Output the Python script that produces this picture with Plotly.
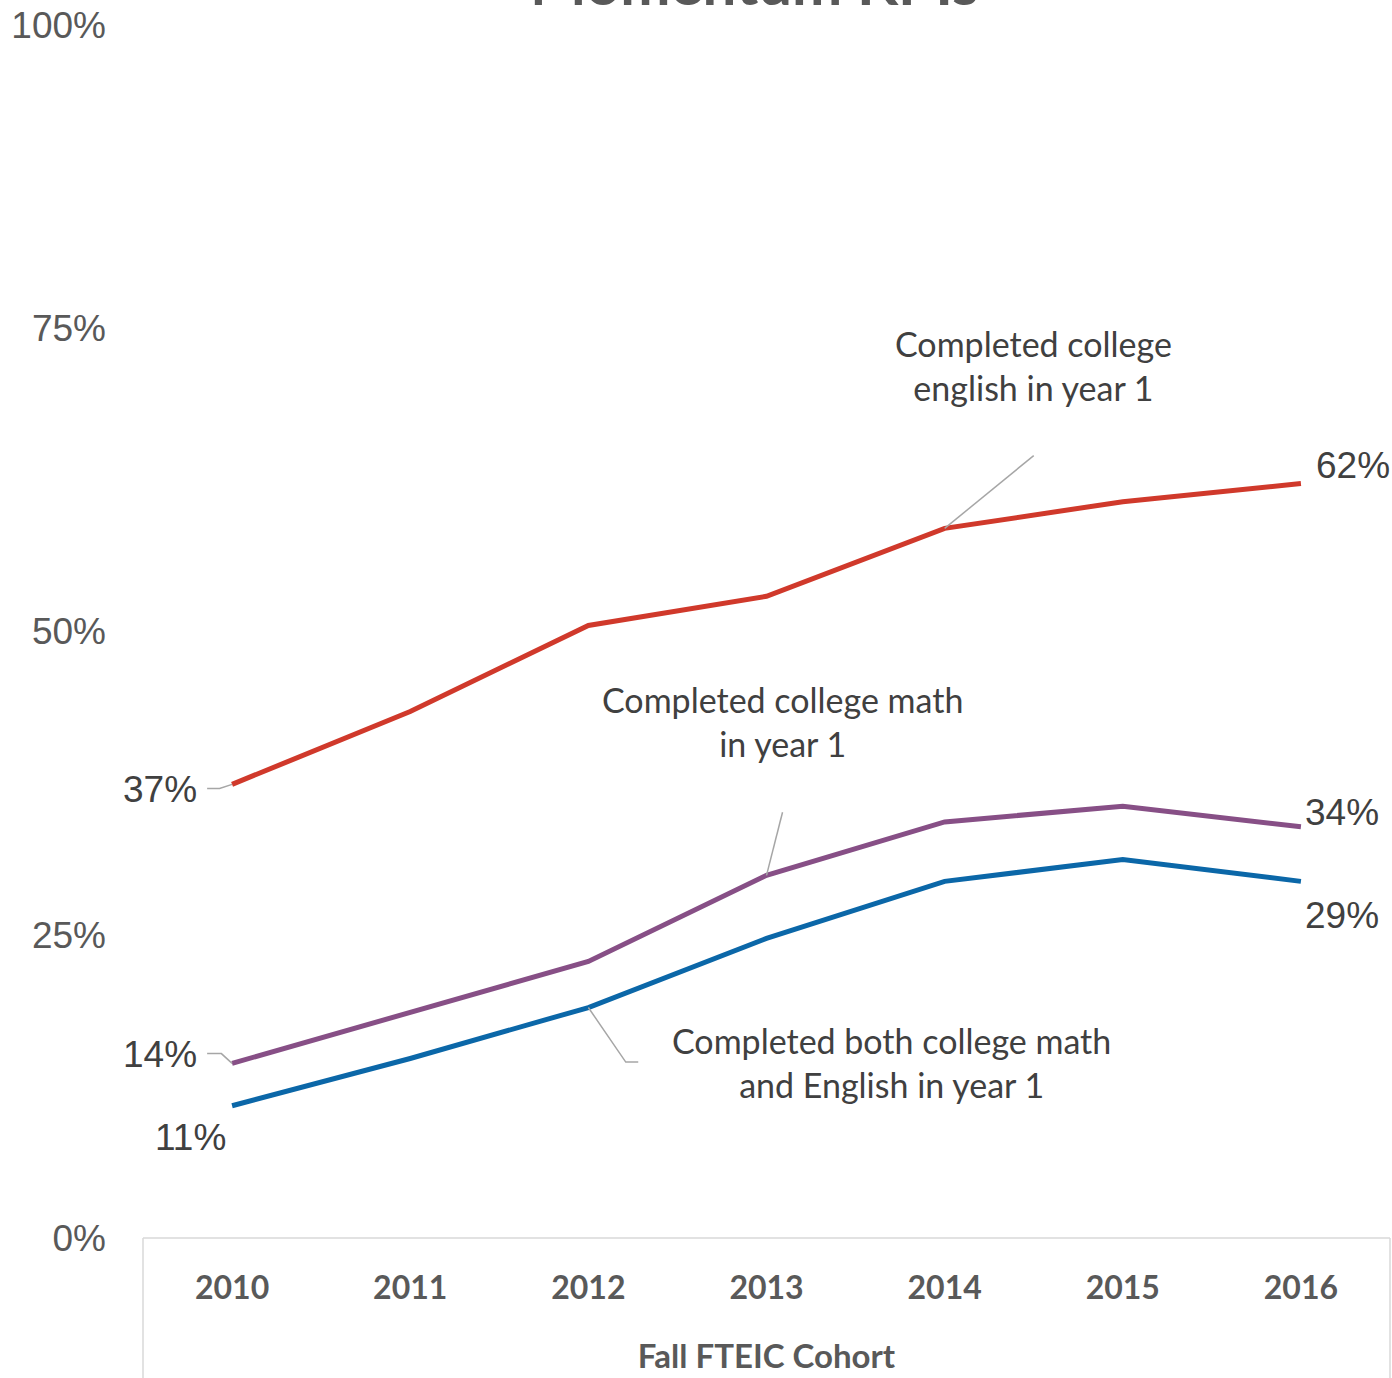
import plotly.graph_objects as go

# Fall FTEIC cohorts
years = [2010, 2011, 2012, 2013, 2014, 2015, 2016]

# Share of cohort (%) completing each gateway course in year 1
english = [37.4, 43.4, 50.5, 52.9, 58.5, 60.7, 62.2]
math = [14.4, 18.6, 22.8, 29.9, 34.3, 35.6, 33.9]
both = [10.9, 14.8, 19.0, 24.7, 29.4, 31.2, 29.4]

y_ticks = [0, 25, 50, 75, 100]
y_tick_text = ["0%", "25%", "50%", "75%", "100%"]

series_names = [
    "Completed college english in year 1",
    "Completed college math in year 1",
    "Completed both college math and English in year 1",
]
series_colors = ["#D0392B", "#874F86", "#0B67A8"]

TXT = "#404040"
LBL_FONT = dict(family="Liberation Sans, Arial", size=37, color=TXT)
NOTE_FONT = dict(family="Lato", size=34, color=TXT)
LEADER = dict(color="#A6A6A6", width=1.5)

fig = go.Figure()
for name, vals, col in zip(series_names, [english, math, both], series_colors):
    fig.add_trace(go.Scatter(
        x=years, y=vals, name=name, mode="lines",
        line=dict(color=col, width=5), showlegend=False, hoverinfo="skip",
    ))

# End-point value labels
def pct(v):
    return f"{round(v):d}%"

ann = []
ann.append(dict(x=years[0], y=english[0], text=pct(english[0]), xshift=-72, yshift=-5,
                showarrow=False, font=LBL_FONT, xanchor="center"))
ann.append(dict(x=years[-1], y=english[-1], text=pct(english[-1]), xshift=52, yshift=18,
                showarrow=False, font=LBL_FONT, xanchor="center"))
ann.append(dict(x=years[0], y=math[0], text=pct(math[0]), xshift=-72, yshift=9,
                showarrow=False, font=LBL_FONT, xanchor="center"))
ann.append(dict(x=years[-1], y=math[-1], text=pct(math[-1]), xshift=41, yshift=14,
                showarrow=False, font=LBL_FONT, xanchor="center"))
ann.append(dict(x=years[0], y=both[0], text=pct(both[0]), xshift=-42, yshift=-32,
                showarrow=False, font=LBL_FONT, xanchor="center"))
ann.append(dict(x=years[-1], y=both[-1], text=pct(both[-1]), xshift=41, yshift=-34,
                showarrow=False, font=LBL_FONT, xanchor="center"))

# Series name callouts
ann.append(dict(x=2014.5, y=71.9, text="Completed college<br>english in year 1",
                showarrow=False, font=NOTE_FONT, xanchor="center", yanchor="middle"))
ann.append(dict(x=2013.09, y=42.6, text="Completed college math<br>in year 1",
                showarrow=False, font=NOTE_FONT, xanchor="center", yanchor="middle"))
ann.append(dict(x=2013.7, y=14.5, text="Completed both college math<br>and English in year 1",
                showarrow=False, font=NOTE_FONT, xanchor="center", yanchor="middle"))

# Chart title (sits above the plotting area)
ann.append(dict(xref="paper", yref="paper", x=0.49, y=1.0, yshift=5,
                text="<b>Momentum KPIs</b>", showarrow=False, yanchor="bottom",
                font=dict(family="Lato", size=60, color="#595959")))

for a in ann:
    a.setdefault("xref", "x")
    a.setdefault("yref", "y")
fig.update_layout(annotations=ann)

# Leader lines from callouts to their series
def seg(pts):
    d = "M " + " L ".join(f"{x},{y}" for x, y in pts)
    return dict(type="path", xref="x", yref="y", path=d, line=LEADER)

shapes = [
    seg([(2014.0, english[4]), (2014.5, english[4] + 6.0)]),
    seg([(2013.0, math[3]), (2013.09, math[3] + 5.2)]),
    seg([(2012.0, both[2]), (2012.21, both[2] - 4.5), (2012.28, both[2] - 4.5)]),
    seg([(2010.0, english[0]), (2009.93, english[0] - 0.35), (2009.86, english[0] - 0.35)]),
    seg([(2010.0, math[0]), (2009.94, math[0] + 0.8), (2009.86, math[0] + 0.8)]),
]
# Category axis frame below the plot
frame = dict(color="#D9D9D9", width=1.5)
shapes += [
    dict(type="line", xref="paper", yref="paper", x0=0, x1=1, y0=0, y1=0, line=frame),
    dict(type="line", xref="paper", yref="paper", x0=0, x1=0, y0=0, y1=-0.12, line=frame),
    dict(type="line", xref="paper", yref="paper", x0=1, x1=1, y0=0, y1=-0.12, line=frame),
]
fig.update_layout(shapes=shapes)

fig.update_layout(
    width=1392, height=1378,
    margin=dict(l=143, r=2, t=25, b=140),
    paper_bgcolor="white", plot_bgcolor="white",
    xaxis=dict(
        range=[2009.5, 2016.5], tickvals=years, ticktext=[str(y) for y in years],
        showgrid=False, zeroline=False, showline=False, ticks="",
        ticklabelstandoff=28,
        tickfont=dict(family="Lato", size=32, color="#595959", weight="bold"),
        title=dict(text="<b>Fall FTEIC Cohort</b>", standoff=39,
                   font=dict(family="Lato", size=33, color="#595959")),
    ),
    yaxis=dict(
        range=[0, 100], tickvals=y_ticks, ticktext=y_tick_text,
        showgrid=False, zeroline=False, showline=False, ticks="",
        ticklabelstandoff=36,
        tickfont=dict(family="Liberation Sans, Arial", size=37, color="#595959"),
    ),
)

fig.write_html("out.html")
